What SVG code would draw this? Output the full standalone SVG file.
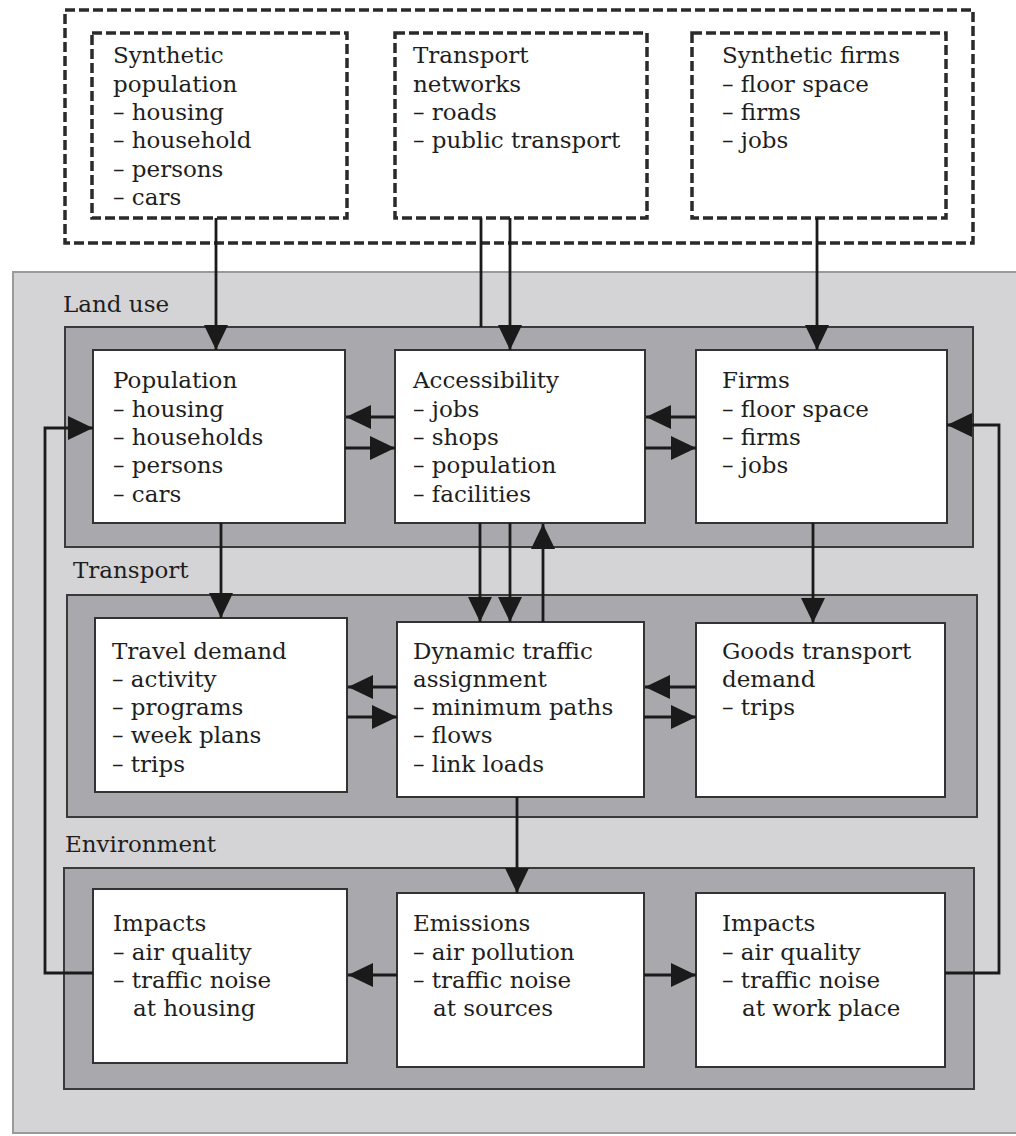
<svg xmlns="http://www.w3.org/2000/svg" width="1016" height="1136" viewBox="0 0 1016 1136">
<style>
.dash{fill:#fff;stroke:#2a2a2a;stroke-width:3.5;stroke-dasharray:10 4}
.outer{fill:#fff;stroke:#2a2a2a;stroke-width:3.5;stroke-dasharray:10 4}
.bg{fill:#d4d4d6;stroke:#9a9a9c;stroke-width:2}
.panel{fill:#a9a9ad;stroke:#3a3a3a;stroke-width:2}
.box{fill:#fff;stroke:#333;stroke-width:2}
text{font-family:"DejaVu Serif","Liberation Serif",serif;font-size:23px;fill:#1e1e1e}
.c line,.c polyline{stroke:#1a1a1a;stroke-width:2.8;fill:none}
</style>
<defs>
<marker id="ah" markerUnits="userSpaceOnUse" markerWidth="26" markerHeight="26" refX="25" refY="12" orient="auto">
<path d="M0,0 L25,12 L0,24 z" fill="#1a1a1a"/>
</marker>
</defs>

<g id="inputs">
<rect class="outer" x="65" y="10" width="908" height="233"/>
</g>
<g id="synthetic-population">
<rect class="dash" x="92" y="33" width="255" height="185"/>
<text x="113" y="63">Synthetic</text>
<text x="113" y="92">population</text>
<text x="113" y="120">– housing</text>
<text x="113" y="148">– household</text>
<text x="113" y="177">– persons</text>
<text x="113" y="205">– cars</text>
</g>
<g id="transport-networks">
<rect class="dash" x="395" y="33" width="252" height="185"/>
<text x="413" y="63">Transport</text>
<text x="413" y="92">networks</text>
<text x="413" y="120">– roads</text>
<text x="413" y="148">– public transport</text>
</g>
<g id="synthetic-firms">
<rect class="dash" x="692" y="33" width="254" height="185"/>
<text x="722" y="63">Synthetic firms</text>
<text x="722" y="92">– floor space</text>
<text x="722" y="120">– firms</text>
<text x="722" y="148">– jobs</text>
</g>

<g id="model">
<rect class="bg" x="13" y="272" width="1010" height="861"/>
</g>
<g id="land-use">
<rect class="panel" x="65" y="327" width="908" height="220"/>
<text x="63" y="312">Land use</text>
</g>
<g id="transport">
<rect class="panel" x="67" y="595" width="910" height="222"/>
<text x="73" y="578">Transport</text>
</g>
<g id="environment">
<rect class="panel" x="64" y="868" width="910" height="221"/>
<text x="65" y="852">Environment</text>
</g>

<g id="population">
<rect class="box" x="93" y="350" width="252" height="173"/>
<text x="113" y="388">Population</text>
<text x="113" y="417">– housing</text>
<text x="113" y="445">– households</text>
<text x="113" y="473">– persons</text>
<text x="113" y="502">– cars</text>
</g>
<g id="accessibility">
<rect class="box" x="395" y="350" width="250" height="173"/>
<text x="413" y="388">Accessibility</text>
<text x="413" y="417">– jobs</text>
<text x="413" y="445">– shops</text>
<text x="413" y="473">– population</text>
<text x="413" y="502">– facilities</text>
</g>
<g id="firms">
<rect class="box" x="696" y="350" width="251" height="173"/>
<text x="722" y="388">Firms</text>
<text x="722" y="417">– floor space</text>
<text x="722" y="445">– firms</text>
<text x="722" y="473">– jobs</text>
</g>

<g id="travel-demand">
<rect class="box" x="95" y="618" width="252" height="174"/>
<text x="112" y="659">Travel demand</text>
<text x="112" y="687">– activity</text>
<text x="112" y="715">– programs</text>
<text x="112" y="743">– week plans</text>
<text x="112" y="772">– trips</text>
</g>
<g id="dynamic-traffic-assignment">
<rect class="box" x="397" y="622" width="247" height="175"/>
<text x="413" y="659">Dynamic traffic</text>
<text x="413" y="687">assignment</text>
<text x="413" y="715">– minimum paths</text>
<text x="413" y="743">– flows</text>
<text x="413" y="772">– link loads</text>
</g>
<g id="goods-transport-demand">
<rect class="box" x="696" y="623" width="249" height="174"/>
<text x="722" y="659">Goods transport</text>
<text x="722" y="687">demand</text>
<text x="722" y="715">– trips</text>
</g>

<g id="impacts-housing">
<rect class="box" x="93" y="889" width="254" height="174"/>
<text x="113" y="931">Impacts</text>
<text x="113" y="960">– air quality</text>
<text x="113" y="988">– traffic noise</text>
<text x="133" y="1016">at housing</text>
</g>
<g id="emissions">
<rect class="box" x="397" y="893" width="247" height="174"/>
<text x="413" y="931">Emissions</text>
<text x="413" y="960">– air pollution</text>
<text x="413" y="988">– traffic noise</text>
<text x="433" y="1016">at sources</text>
</g>
<g id="impacts-workplace">
<rect class="box" x="696" y="893" width="249" height="174"/>
<text x="722" y="931">Impacts</text>
<text x="722" y="960">– air quality</text>
<text x="722" y="988">– traffic noise</text>
<text x="742" y="1016">at work place</text>
</g>

<g id="connectors" class="c">
<line x1="216" y1="218" x2="216" y2="350" marker-end="url(#ah)"/>
<line x1="481" y1="218" x2="481" y2="327"/>
<line x1="510" y1="218" x2="510" y2="350" marker-end="url(#ah)"/>
<line x1="817" y1="218" x2="817" y2="350" marker-end="url(#ah)"/>

<line x1="395" y1="417" x2="346" y2="417" marker-end="url(#ah)"/>
<line x1="345" y1="448" x2="395" y2="448" marker-end="url(#ah)"/>
<line x1="696" y1="417" x2="646" y2="417" marker-end="url(#ah)"/>
<line x1="645" y1="448" x2="696" y2="448" marker-end="url(#ah)"/>

<line x1="221" y1="523" x2="221" y2="618" marker-end="url(#ah)"/>
<line x1="480" y1="523" x2="480" y2="622" marker-end="url(#ah)"/>
<line x1="510" y1="523" x2="510" y2="622" marker-end="url(#ah)"/>
<line x1="543" y1="622" x2="543" y2="524" marker-end="url(#ah)"/>
<line x1="813" y1="523" x2="813" y2="623" marker-end="url(#ah)"/>

<line x1="397" y1="687" x2="348" y2="687" marker-end="url(#ah)"/>
<line x1="347" y1="717" x2="397" y2="717" marker-end="url(#ah)"/>
<line x1="696" y1="687" x2="645" y2="687" marker-end="url(#ah)"/>
<line x1="644" y1="717" x2="696" y2="717" marker-end="url(#ah)"/>

<line x1="517" y1="797" x2="517" y2="893" marker-end="url(#ah)"/>

<line x1="397" y1="975" x2="348" y2="975" marker-end="url(#ah)"/>
<line x1="644" y1="975" x2="696" y2="975" marker-end="url(#ah)"/>

<polyline points="93,973 45,973 45,428 93,428" marker-end="url(#ah)"/>
<polyline points="945,973 999,973 999,425 947,425" marker-end="url(#ah)"/>
</g>
</svg>
